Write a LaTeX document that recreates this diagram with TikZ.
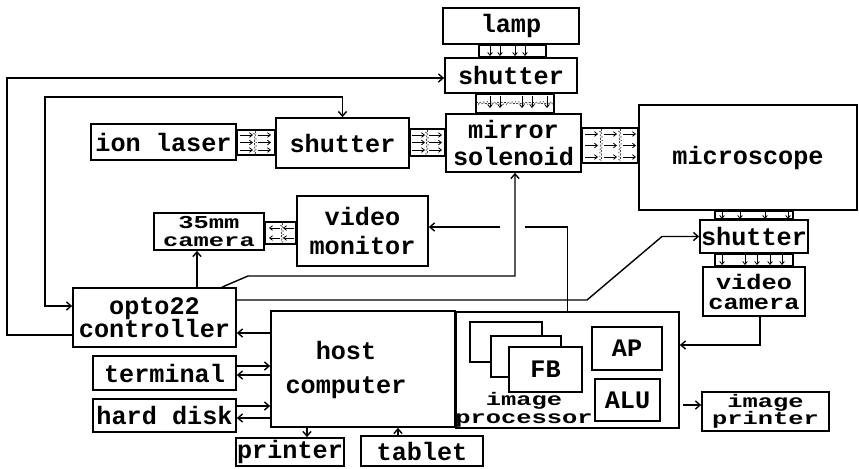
\documentclass[tikz,border=0pt]{standalone}
\usepackage{fontspec}
\newfontfamily\boxfont{Liberation Mono}
\newfontfamily\flatfont{Liberation Mono}[FakeStretch=1.4]
\newfontfamily\midfont{Liberation Mono}[FakeStretch=1.2]
\usepackage{tikz}
\usetikzlibrary{arrows.meta}
\usetikzlibrary{decorations.pathmorphing}
\newcommand{\pxu}{0.03cm}

\begin{document}
\begin{tikzpicture}[x=0.03cm,y=-0.03cm,
  box/.style={draw,line width=1.5pt,inner sep=0pt,align=center,font=\boxfont\bfseries\fontsize{21.5}{22}\selectfont},
  sz/.style 2 args={minimum width=#1*\pxu,minimum height=#2*\pxu},
  flat/.style={font=\flatfont\bfseries\fontsize{15.5}{17}\selectfont},
  mid/.style={font=\midfont\bfseries\fontsize{18}{17}\selectfont},
  lbl/.style={inner sep=0pt,align=center,font=\boxfont\bfseries\fontsize{21.5}{22}\selectfont},
  wire/.style={line width=1.2pt,>={Straight Barb[length=4pt,width=7pt]}},
  beam/.style={line width=1.2pt},
  ray/.style={line width=0.7pt,-{Straight Barb[length=2.5pt,width=4pt]}},
  haze/.style={line width=0.6pt,densely dotted,decorate,decoration={zigzag,segment length=3pt,amplitude=1pt}}]
\useasboundingbox (0,0) rectangle (859,468);

\node[box,sz={136}{36}] (lamp) at (511,26) {lamp};
\node[box,sz={132}{35}] (shutU) at (511,75.5) {shutter};
\node[box,sz={135}{58}] (mirror) at (513.5,143) {mirror\\[1.8pt]solenoid};
\node[box,sz={145}{36}] (laser) at (163.5,142) {ion laser};
\node[box,sz={133}{50}] (shutL) at (342.5,143) {shutter};
\node[box,sz={218}{105}] (micro) at (748,157.5) {microscope};
\node[box,sz={108}{33}] (shutR) at (754,236.5) {shutter};
\node[box,mid,sz={102}{49}] (vcam) at (754,291.5) {video\\camera};
\node[box,flat,sz={110}{37}] (cam35) at (209,231.5) {35mm\\[-1pt]camera};
\node[box,sz={131}{70}] (monitor) at (362.5,231) {video\\[2.7pt]monitor};
\node[box,sz={163}{59}] (opto) at (154.5,317.5) {opto22\\[-2.4pt]controller};
\node[box,sz={184}{116}] (host) at (363,369) {};
\node[lbl] (hostlbl) at (346,370) {host\\[6.9pt]computer};
\node[box,sz={223}{116}] (improc) at (567.5,370) {};
\node[box,sz={72}{40}] (fbA) at (506,342) {};
\node[box,sz={70}{41},fill=white] (fbB) at (526,356.5) {};
\node[box,sz={73}{45},fill=white] (fbC) at (545.5,369.5) {FB};
\node[box,sz={70}{43}] (ap) at (627,348.5) {AP};
\node[box,sz={65}{42}] (alu) at (627.5,400) {ALU};
\node[lbl,flat] (iplbl) at (524,410) {image\\[-1.7pt]processor};
\node[box,flat,sz={127}{39}] (imprint) at (765.5,411.5) {image\\[-2.5pt]printer};
\node[box,sz={143}{34}] (term) at (164.5,373) {terminal};
\node[box,sz={143}{33}] (disk) at (164.5,415.5) {hard disk};
\node[box,sz={108}{28}] (printer) at (290,452) {printer};
\node[box,sz={122}{30}] (tablet) at (422,451) {tablet};

\draw[beam] (laser.east |- 0,130) rectangle (shutL.west |- 0,155);
\foreach \yy in {135,142.5,150} \foreach \xx in {240,258} \draw[ray] (\xx,\yy) -- ++(13,0);
\draw[haze] (255,131) -- (255,154);
\draw[beam] (shutL.east |- 0,129) rectangle (mirror.west |- 0,156);
\foreach \yy in {135,142.5,150} \foreach \xx in {412,429} \draw[ray] (\xx,\yy) -- ++(13,0);
\draw[haze] (427,130) -- (427,155);
\draw[beam] (mirror.east |- 0,128) rectangle (micro.west |- 0,163);
\foreach \yy in {134,145.5,157} \foreach \xx in {585,604,623} \draw[ray] (\xx,\yy) -- ++(13,0);
\draw[haze] (601,129) -- (601,162);
\draw[haze] (620,129) -- (620,162);
\draw[beam] (cam35.east |- 0,222) rectangle (monitor.west |- 0,244);
\foreach \yy in {228,238} \foreach \xx in {280,294} \draw[ray] (\xx,\yy) -- ++(-11,0);
\draw[haze] (282,223) -- (282,243);

\draw[beam] (lamp.south -| 479,0) rectangle (shutU.north -| 546,0);
\foreach \xx in {490,500,515,525} \draw[ray] (\xx,46) -- ++(0,10);
\draw[beam] (shutU.south -| 476,0) rectangle (mirror.north -| 554,0);
\foreach \xx in {490,500,522,532,547} \draw[ray] (\xx,96) -- ++(0,12);
\draw[haze] (476,103) -- (554,103);
\draw[beam] (micro.south -| 715,0) rectangle (shutR.north -| 793,0);
\foreach \xx in {722,740,765,788} \draw[ray] (\xx,211) -- ++(0,8);
\draw[beam] (shutR.south -| 715,0) rectangle (vcam.north -| 793,0);
\foreach \xx in {722,745,757,770,782} \draw[ray] (\xx,255) -- ++(0,10);

\draw[wire,->] (opto.west |- 0,335) -| (7,78) -- (shutU.west |- 0,78);
\draw[wire,<->] (opto.west |- 0,306) -| (45,97) -| (shutL.north);
\draw[wire,->] (opto.north -| 197,0) -- (cam35.south -| 197,0);
\draw[wire,->] (opto.north -| 222,0) -- (248,276) -| (mirror.south -| 515,0);
\draw[wire,->] (opto.east |- 0,300) -- (587,300) -- (662,236.5) -- (shutR.west);
\draw[wire] (improc.north) |- (525,227);
\draw[wire,->] (500,227) -- (monitor.east |- 0,227);
\draw[wire,->] (host.west |- 0,333) -- (opto.east |- 0,333);
\draw[wire,->] (term.east |- 0,366) -- (host.west |- 0,366);
\draw[wire,<-] (term.east |- 0,375) -- (host.west |- 0,375);
\draw[wire,->] (disk.east |- 0,406) -- (host.west |- 0,406);
\draw[wire,<-] (disk.east |- 0,418) -- (host.west |- 0,418);
\draw[wire,->] (host.south -| 307,0) -- (printer.north -| 307,0);
\draw[wire,->] (tablet.north -| 398,0) -- (host.south -| 398,0);
\draw[wire,->] (vcam.south -| 760,0) |- (improc.east |- 0,345);
\draw[wire,->,shorten <=3pt] (improc.east |- 0,405) -- (imprint.west |- 0,405);

\end{tikzpicture}
\end{document}
